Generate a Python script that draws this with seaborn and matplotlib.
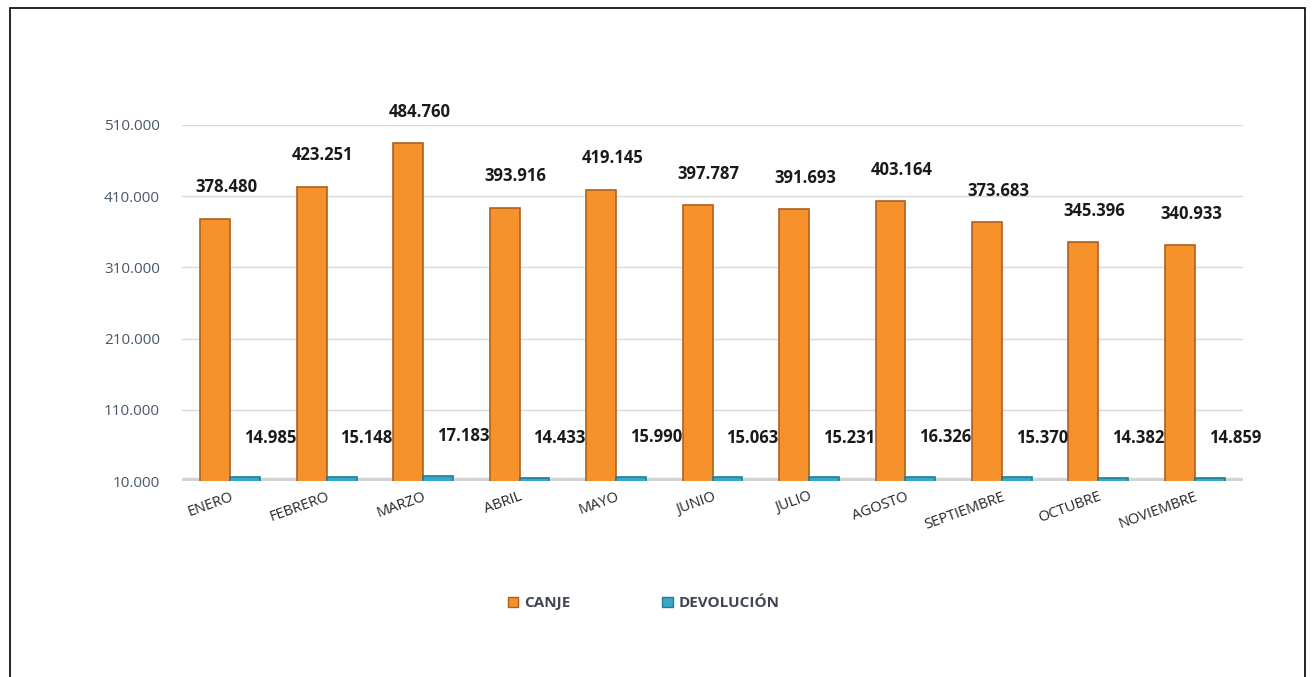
import matplotlib
matplotlib.use("Agg")
import matplotlib.pyplot as plt
from matplotlib.patches import Rectangle, Patch
import seaborn as sns
import pandas as pd

meses = ["ENERO", "FEBRERO", "MARZO", "ABRIL", "MAYO", "JUNIO", "JULIO",
         "AGOSTO", "SEPTIEMBRE", "OCTUBRE", "NOVIEMBRE"]
canje = [378480, 423251, 484760, 393916, 419145, 397787, 391693,
         403164, 373683, 345396, 340933]
devolucion = [14985, 15148, 17183, 14433, 15990, 15063, 15231,
              16326, 15370, 14382, 14859]
series = ["CANJE", "DEVOLUCIÓN"]
colores = ["#F5922C", "#38A8C6"]
yticks = [10000, 110000, 210000, 310000, 410000, 510000]

def miles(v):
    return f"{v:,}".replace(",", ".")

df = pd.DataFrame({
    "mes": meses * 2,
    "valor": canje + devolucion,
    "serie": ["CANJE"] * len(meses) + ["DEVOLUCIÓN"] * len(meses),
})

sns.set_style("white")
plt.rcParams["font.family"] = ["Open Sans", "DejaVu Sans"]

fig = plt.figure(figsize=(13.14, 6.77), dpi=100)
ax = fig.add_axes([0.1385, 0.2895, 0.8075, 0.526])

sns.barplot(data=df, x="mes", y="valor", hue="serie", hue_order=series,
            palette=colores, saturation=1, width=0.62, ax=ax, legend=False,
            edgecolor="#B0601C", linewidth=1.2)
# darker edge for the blue bars
for p in ax.patches[len(meses):]:
    p.set_edgecolor("#1F7E96")

ax.set_ylim(10000, 510000)
ax.set_xlim(-0.5, len(meses) - 0.5)
ax.set_yticks(yticks)
ax.set_yticklabels([miles(t) for t in yticks], color="#4A5868", fontsize=11)
ax.tick_params(axis="y", length=0, pad=16)
ax.tick_params(axis="x", length=0, pad=6)
plt.setp(ax.get_xticklabels(), rotation=20, ha="right",
         rotation_mode="anchor", fontsize=10.5, color="#262626")
ax.set_xlabel("")
ax.set_ylabel("")
ax.grid(axis="y", color="#D9D9D9", linewidth=1)
ax.set_axisbelow(True)
for s in ax.spines.values():
    s.set_visible(False)

# floor
ax.axhspan(10000, 14000, color="#D4D4D4", zorder=0)

# data labels
for i, v in enumerate(canje):
    ax.annotate(miles(v), (i - 0.155, v), xytext=(8, 16), textcoords="offset points",
                ha="center", va="bottom", fontsize=12, fontweight="bold", color="#1A1A1A")
for i, v in enumerate(devolucion):
    ax.annotate(miles(v), (i + 0.155, v), xytext=(18, 22), textcoords="offset points",
                ha="center", va="bottom", fontsize=12, fontweight="bold", color="#1A1A1A")

handles = [Patch(facecolor=colores[0], edgecolor="#B0601C"),
           Patch(facecolor=colores[1], edgecolor="#1F7E96")]
leg = fig.legend(handles, series, loc="center", bbox_to_anchor=(0.49, 0.109),
                 ncol=2, frameon=False, handlelength=0.7, handleheight=0.7,
                 handletextpad=0.4, columnspacing=6,
                 prop={"size": 11, "weight": "bold"})
for t in leg.get_texts():
    t.set_color("#404654")

fig.patches.append(Rectangle((0.0076, -0.01), 0.9855, 0.998, transform=fig.transFigure,
                             fill=False, edgecolor="black", linewidth=1.2))

fig.savefig("out.png", dpi=100)
